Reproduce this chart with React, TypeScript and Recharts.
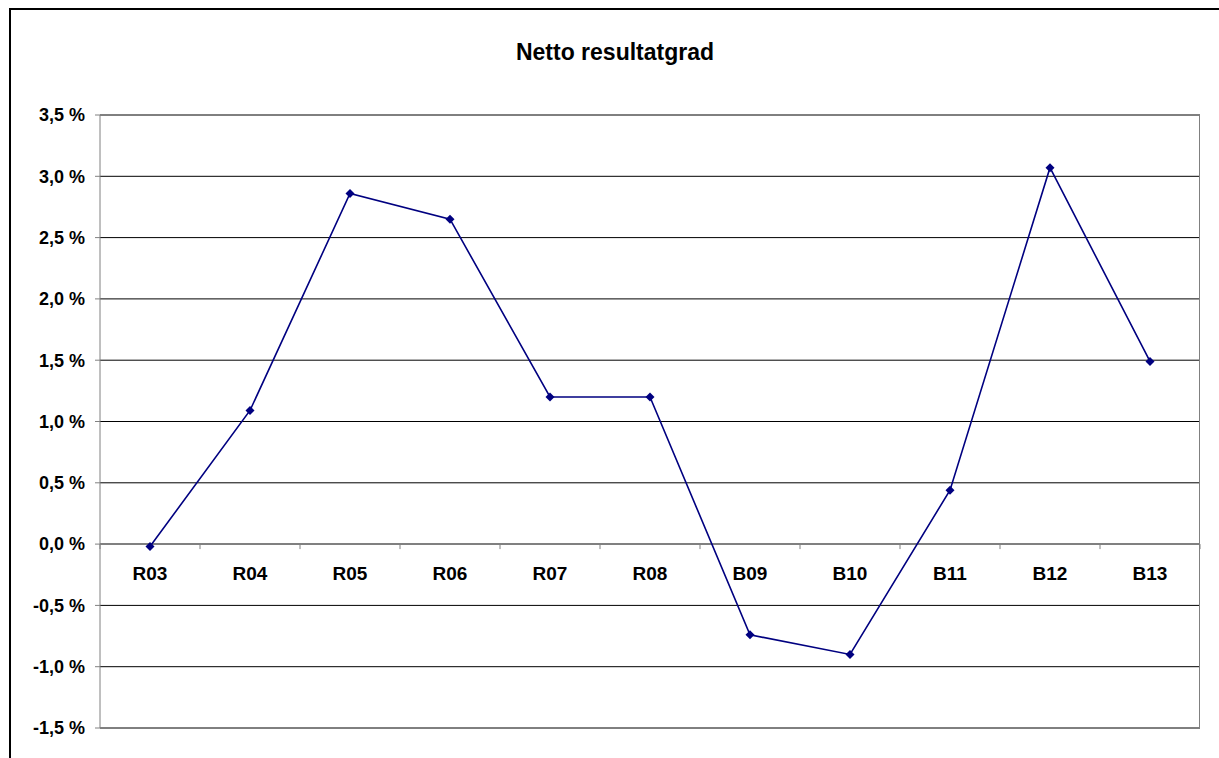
import { LineChart, Line, XAxis, YAxis, CartesianGrid, ReferenceLine, LabelList } from 'recharts';

const categories = ['R03', 'R04', 'R05', 'R06', 'R07', 'R08', 'B09', 'B10', 'B11', 'B12', 'B13'];
const values = [-0.02, 1.09, 2.86, 2.65, 1.2, 1.2, -0.74, -0.9, 0.44, 3.07, 1.49];
const yTicks = [-1.5, -1.0, -0.5, 0, 0.5, 1.0, 1.5, 2.0, 2.5, 3.0, 3.5];

const data = categories.map((cat, i) => ({ cat, value: values[i], zero: 0 }));

const FONT = 'Arial, "Liberation Sans", sans-serif';
const NAVY = '#000080';

const fmt = (v: number) => `${v.toFixed(1).replace('.', ',')} %`;

function Diamond(props: any) {
  const { cx, cy } = props;
  if (cx == null || cy == null) return null;
  const r = 4.5;
  return <path d={`M${cx},${cy - r}L${cx + r},${cy}L${cx},${cy + r}L${cx - r},${cy}Z`} fill={NAVY} />;
}

// category label under the zero axis plus a small tick at the category boundary
function CatLabel(props: any) {
  const { x, y, value, index } = props;
  const half = 50;
  return (
    <g>
      {index === 0 && <line x1={x - half} y1={y} x2={x - half} y2={y + 5} stroke="#808080" />}
      <line x1={x + half} y1={y} x2={x + half} y2={y + 5} stroke="#808080" />
      <text x={x} y={y + 36} textAnchor="middle" fontFamily={FONT} fontWeight="bold" fontSize={19} fill="#000">
        {value}
      </text>
    </g>
  );
}

export default function App() {
  return (
    <div style={{ position: 'absolute', left: 0, top: 0, width: 1219, height: 758, background: '#fff' }}>
      <div style={{ position: 'absolute', left: 9, top: 8, width: 1220, height: 760, border: '2px solid #000', borderRight: 'none', borderBottom: 'none' }} />
      <div style={{
        position: 'absolute', left: 0, width: 1219, top: 39, textAlign: 'center',
        fontFamily: FONT, fontWeight: 'bold', fontSize: 23, paddingLeft: 11, boxSizing: 'border-box',
      }}>
        Netto resultatgrad
      </div>
      <LineChart
        width={1219}
        height={758}
        data={data}
        margin={{ top: 115, right: 19, bottom: 30, left: 0 }}
        style={{ position: 'absolute', left: 0, top: 0 }}
      >
        <CartesianGrid vertical={false} stroke="#000" strokeWidth={1} />
        <XAxis dataKey="cat" hide padding={{ left: 50, right: 50 }} />
        <YAxis
          width={100}
          domain={[-1.5, 3.5]}
          ticks={yTicks}
          interval={0}
          tickFormatter={fmt}
          stroke="#808080"
          tickSize={5}
          tickMargin={10}
          tick={{ fontFamily: FONT, fontWeight: 'bold', fontSize: 18, fill: '#000' }}
        />
        <ReferenceLine y={3.5} stroke="#808080" />
        <ReferenceLine y={-1.5} stroke="#808080" />
        <ReferenceLine y={0} stroke="#808080" strokeWidth={2} />
        <Line
          dataKey="zero"
          stroke="none"
          dot={false}
          activeDot={false}
          isAnimationActive={false}
        >
          <LabelList dataKey="cat" content={<CatLabel />} />
        </Line>
        <Line
          dataKey="value"
          stroke={NAVY}
          strokeWidth={1.6}
          dot={<Diamond />}
          activeDot={false}
          isAnimationActive={false}
        />
      </LineChart>
      <div style={{ position: 'absolute', left: 1199, top: 114, width: 1, height: 614, background: '#808080' }} />
    </div>
  );
}
